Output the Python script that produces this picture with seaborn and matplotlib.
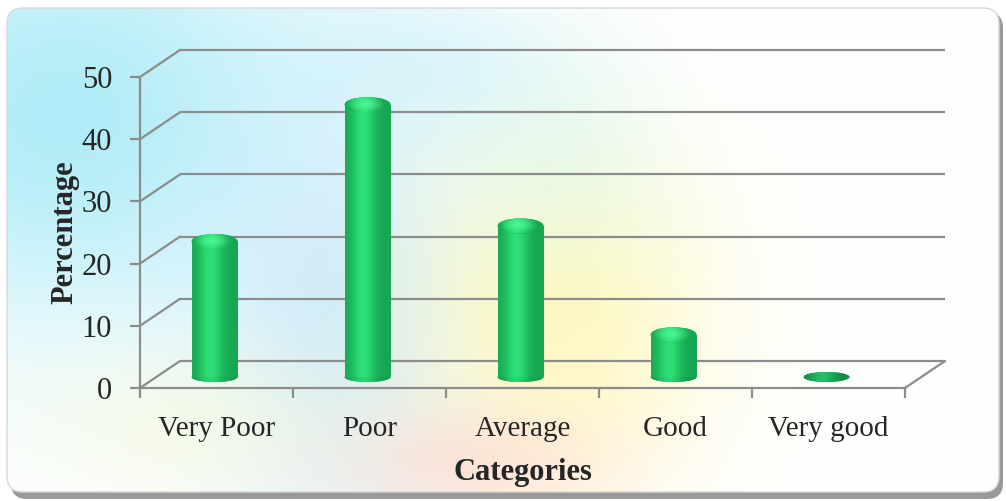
import numpy as np
import pandas as pd
import seaborn as sns
import matplotlib.pyplot as plt
from matplotlib.patches import Ellipse, FancyBboxPatch
from matplotlib.transforms import ScaledTranslation

sns.set_theme(style="white")
plt.rcParams["font.family"] = ["Liberation Serif", "DejaVu Serif"]

# -----------------------------
# Data
# -----------------------------
categories = ["Very Poor", "Poor", "Average", "Good", "Very good"]
percentages = [23, 45, 25.5, 8, 0.5]
y_ticks = [0, 10, 20, 30, 40, 50]

df = pd.DataFrame({"category": categories, "percentage": percentages})

W, H, DPI = 1006, 501, 100
fig = plt.figure(figsize=(W / DPI, H / DPI), dpi=DPI)

# -----------------------------
# Pastel background panel
# -----------------------------
bg = fig.add_axes([0, 0, 1, 1])
bg.set_xlim(0, W)
bg.set_ylim(H, 0)
bg.axis("off")

yy, xx = np.mgrid[0:H, 0:W]
img = np.ones((H, W, 3))


def blob(cx, cy, sx, sy, color, strength):
    g = np.exp(-(((xx - cx) / sx) ** 2 + ((yy - cy) / sy) ** 2)) * strength
    for c in range(3):
        img[..., c] = img[..., c] * (1 - g) + color[c] * g


blob(60, 110, 260, 220, (0.66, 0.92, 0.97), 0.9)
blob(340, 330, 130, 210, (0.72, 0.88, 0.98), 0.6)
blob(560, 320, 150, 170, (1.00, 0.97, 0.70), 0.8)
blob(470, 470, 140, 60, (1.00, 0.84, 0.80), 0.6)
blob(560, 160, 110, 110, (0.80, 0.96, 0.90), 0.35)
blob(190, 430, 160, 80, (0.97, 0.98, 0.84), 0.5)
blob(420, 60, 150, 80, (0.75, 0.93, 0.98), 0.45)

shadow = FancyBboxPatch((11, 12), 992, 487, boxstyle="round,pad=0,rounding_size=16",
                        facecolor="#555555", edgecolor="none", alpha=0.6, zorder=1)
bg.add_patch(shadow)
frame = FancyBboxPatch((7, 8), 992, 484, boxstyle="round,pad=0,rounding_size=16",
                       facecolor="none", edgecolor="#d8d8d8", linewidth=1, zorder=3)
bg.add_patch(frame)
im_bg = bg.imshow(img, extent=[7, 999, 492, 8], zorder=2, aspect="auto")
im_bg.set_clip_path(frame)

# -----------------------------
# Plot area (front plane)
# -----------------------------
x0, x1 = 140, 905
y_top, y_bot = 77, 388
ax = fig.add_axes([x0 / W, 1 - y_bot / H, (x1 - x0) / W, (y_bot - y_top) / H])
ax.set_facecolor("none")

green = "#00b050"
sns.barplot(data=df, x="category", y="percentage", color=green, width=0.3,
            ax=ax, zorder=5)

ax.set_xlim(-0.5, len(categories) - 0.5)
ax.set_ylim(0, 50)

px = 1 / DPI
back = ax.transData + ScaledTranslation(40 * px, 27 * px, fig.dpi_scale_trans)
mid = ax.transData + ScaledTranslation(-2 * px, 11 * px, fig.dpi_scale_trans)

gcol = "#8c8c8c"
xl, xr = -0.5, len(categories) - 0.5
for v in y_ticks:
    ax.plot([xl, xr], [v, v], transform=back, color=gcol, linewidth=1.6,
            zorder=1, clip_on=False, solid_capstyle="butt")
    # diagonal from front axis to back wall
    ax.annotate("", xy=(xl, v), xycoords=back, xytext=(xl, v), textcoords="data",
                arrowprops=dict(arrowstyle="-", color=gcol, lw=1.6,
                                shrinkA=0, shrinkB=0))
# right floor edge
ax.annotate("", xy=(xr, 0), xycoords=back, xytext=(xr, 0), textcoords="data",
            arrowprops=dict(arrowstyle="-", color=gcol, lw=1.6, shrinkA=0, shrinkB=0))

# -----------------------------
# Cylinder look for the bars
# -----------------------------
prof = np.linspace(0, 1, 64)
shade = 0.5 + 0.5 * np.exp(-((prof - 0.40) / 0.26) ** 2)
dark = np.array([0.0, 0.42, 0.18])
light = np.array([0.18, 0.88, 0.46])
grad = np.clip(dark[None, :] + (light - dark)[None, :] * shade[:, None], 0, 1)

unit = (y_bot - y_top) / 50.0  # pixels per percent
cap_top = 15 / unit
cap_bot = 10 / unit

for p, val in zip(ax.patches, percentages):
    xb, w = p.get_x(), p.get_width()
    xc = xb + w / 2
    top_c = max(val - cap_top / 2, 0)
    p.set_transform(mid)
    p.set_height(top_c)
    p.set_facecolor("none")
    p.set_edgecolor("none")

    # rounded bottom
    eb = Ellipse((xc, 0), w, cap_bot, transform=mid, facecolor="#00a046",
                 edgecolor="none", zorder=4)
    ax.add_patch(eb)
    ib = ax.imshow(grad[None, :, :] * 0.95, extent=[xb, xb + w, -cap_bot, cap_bot],
                   transform=mid, aspect="auto", zorder=4)
    ib.set_clip_path(eb)

    if top_c > 0:
        ir = ax.imshow(grad[None, :, :], extent=[xb, xb + w, 0, top_c],
                       transform=mid, aspect="auto", zorder=5)
        ir.set_clip_path(p)
        # domed top with a highlight
        et = Ellipse((xc, top_c), w, cap_top, transform=mid, facecolor=green,
                     edgecolor="none", zorder=6)
        ax.add_patch(et)
        gy, gx = np.mgrid[0:32, 0:64]
        r = np.sqrt(((gx / 63 - 0.45) / 0.42) ** 2 + ((gy / 31 - 0.45) / 0.6) ** 2)
        s = np.clip(1 - r, 0, 1)[..., None]
        cap_img = grad[None, :, :] * (1 - s) + np.array([0.30, 0.97, 0.58]) * s
        it = ax.imshow(np.clip(cap_img, 0, 1),
                       extent=[xb, xb + w, top_c - cap_top / 2, top_c + cap_top / 2],
                       transform=mid, aspect="auto", zorder=6)
        it.set_clip_path(et)
    else:
        eb.set_zorder(6)
        ib.set_zorder(6)
        ib.set_data(np.clip(grad[None, :, :] * 0.85, 0, 1))

ax.set_xlim(-0.5, len(categories) - 0.5)
ax.set_ylim(0, 50)

# -----------------------------
# Axes, ticks, labels
# -----------------------------
sns.despine(ax=ax, top=True, right=True)
for side in ["left", "bottom"]:
    ax.spines[side].set_color(gcol)
    ax.spines[side].set_linewidth(1.6)
    ax.spines[side].set_zorder(2)

ax.set_yticks(y_ticks)
ax.set_yticklabels([str(v) for v in y_ticks], fontsize=22)
ax.tick_params(axis="y", direction="out", length=7, width=1.6, color=gcol,
               pad=13, left=True)
ax.set_xticks(range(len(categories)))
ax.set_xticklabels(categories, fontsize=21)
ax.set_xticks(np.arange(-0.5, len(categories)), minor=True)
ax.tick_params(axis="x", which="major", length=0, pad=20)
ax.tick_params(axis="x", which="minor", direction="out", length=7, width=1.6,
               color=gcol, bottom=True)

ax.set_ylabel("Percentage", fontsize=22, fontweight="bold", labelpad=2)
ax.set_xlabel("Categories", fontsize=22, fontweight="bold", labelpad=12)
ax.grid(False)

fig.savefig("out.png", dpi=DPI)
